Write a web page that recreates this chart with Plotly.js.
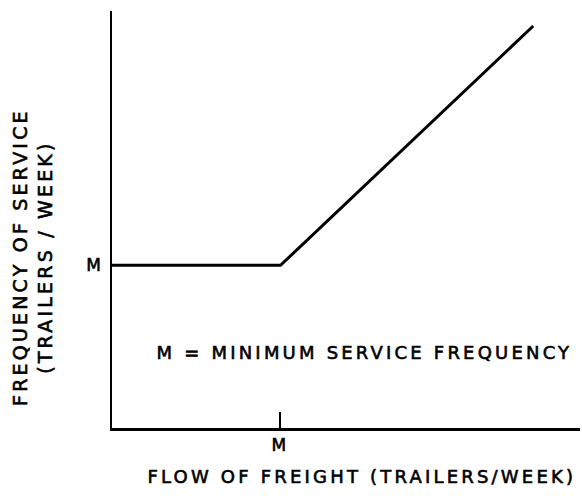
<!DOCTYPE html>
<html>
<head>
<meta charset="utf-8">
<script src="https://cdn.plot.ly/plotly-3.0.1.min.js"></script>
<style>
html,body{margin:0;padding:0;background:#fff;}
#chart{width:582px;height:496px;}
#chart text{letter-spacing:3.2px;stroke:#000;stroke-width:0.6px;}
</style>
</head>
<body>
<div id="chart"></div>
<script>
// Schematic: service frequency vs freight flow (axes 0..100 arbitrary units)
var flowX = [0, 36, 90];
var freqY = [39, 39, 96.4];
var xTickVals = [36];
var xTickText = ["M"];
var yTickVals = [39];
var yTickText = ["M"];
var xTitle = "FLOW OF FREIGHT (TRAILERS/WEEK)";
var yTitle = "FREQUENCY OF SERVICE<br>(TRAILERS / WEEK)";
var note = "M = MINIMUM SERVICE FREQUENCY";

var fontFam = "DejaVu Sans, sans-serif";
var trace = {
  x: flowX, y: freqY, mode: "lines", type: "scatter",
  line: {color: "#000", width: 3}, hoverinfo: "skip", showlegend: false
};
var layout = {
  width: 582, height: 496,
  margin: {l: 112, r: 2, t: 11, b: 68},
  paper_bgcolor: "#fff", plot_bgcolor: "#fff",
  font: {family: fontFam, color: "#000", size: 17},
  xaxis: {
    range: [0, 100], showgrid: false, zeroline: false,
    showline: true, linecolor: "#000", linewidth: 2.5,
    tickmode: "array", tickvals: xTickVals, ticktext: xTickText,
    ticks: "inside", ticklen: 16, tickwidth: 2, tickcolor: "#000",
    tickfont: {family: fontFam, size: 17, color: "#000"}, fixedrange: true
  },
  yaxis: {
    range: [0, 100], showgrid: false, zeroline: false,
    showline: true, linecolor: "#000", linewidth: 2.5,
    tickmode: "array", tickvals: yTickVals, ticktext: yTickText,
    ticks: "outside", ticklen: 2, tickcolor: "rgba(0,0,0,0)",
    tickfont: {family: fontFam, size: 17, color: "#000"}, fixedrange: true
  },
  annotations: [
    {text: yTitle, xref: "paper", yref: "paper", x: -0.171, y: 0.41,
     textangle: -90, showarrow: false, font: {size: 19}, xanchor: "center", yanchor: "middle"},
    {text: xTitle, xref: "paper", yref: "paper", x: 0.534, y: -0.117,
     showarrow: false, font: {size: 18}, xanchor: "center", yanchor: "middle"},
    {text: note, xref: "x", yref: "y", x: 54.1, y: 18,
     showarrow: false, font: {size: 18}, xanchor: "center", yanchor: "middle"}
  ]
};
Plotly.newPlot("chart", [trace], layout, {displayModeBar: false, staticPlot: true});
</script>
</body>
</html>
